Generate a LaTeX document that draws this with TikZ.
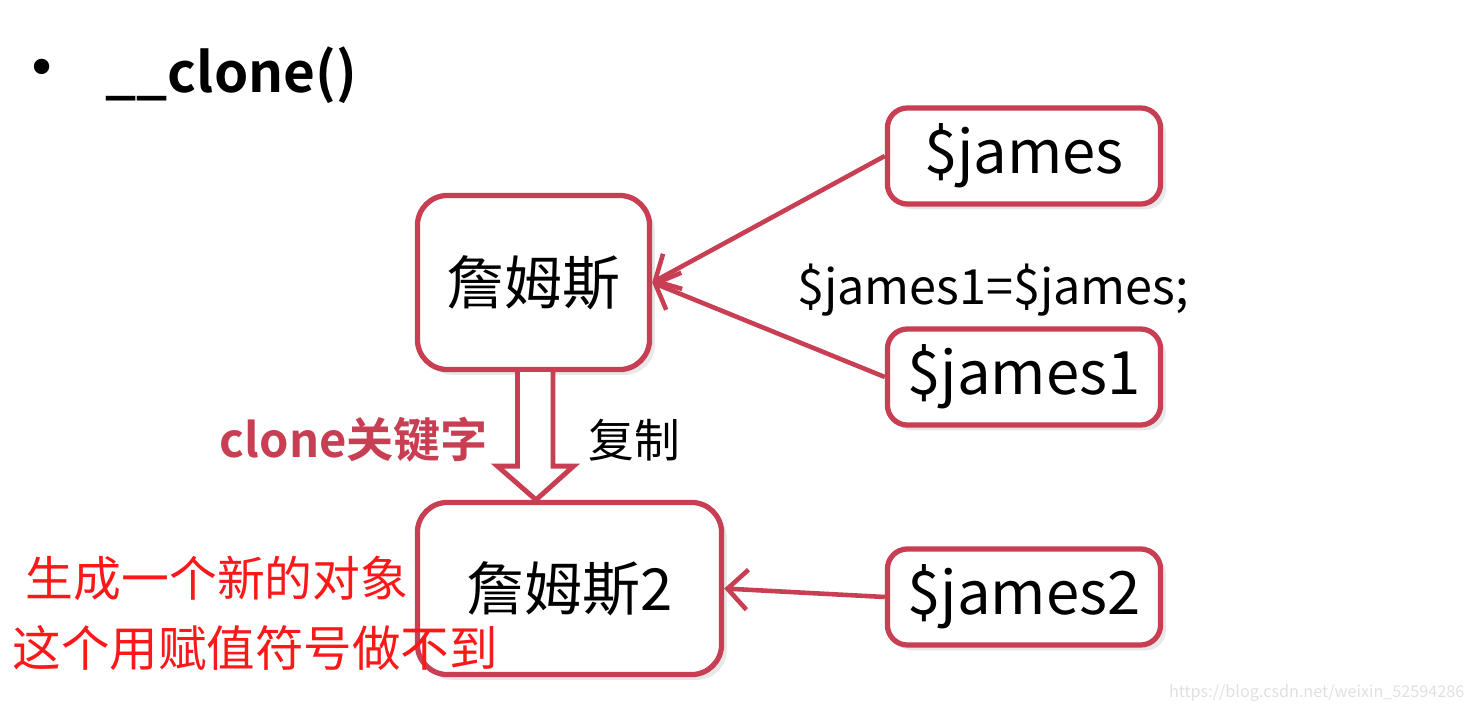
\documentclass[tikz,border=0pt]{standalone}
\usepackage{fontspec}
\setmainfont{Noto Sans CJK SC}[BoldFont={Noto Sans CJK SC Bold}]
\newfontfamily\symfont{DejaVu Sans}
\usetikzlibrary{arrows.meta,calc,shadows}

\definecolor{boxred}{RGB}{200,62,82}
\definecolor{notered}{RGB}{250,24,24}

\tikzset{
  objbox/.style={draw=boxred, line width=1.5pt, fill=white, rounded corners=0.3cm,
    align=center, font=\fontsize{16.5pt}{19pt}\selectfont,
    drop shadow={opacity=0.18, shadow xshift=1.5pt, shadow yshift=-1.5pt}},
  varbox/.style={objbox, rounded corners=0.2cm, minimum width=2.73cm, minimum height=0.96cm,
    font=\fontsize{17pt}{19pt}\selectfont},
  ref/.style={draw=boxred, line width=1.3pt, -{Straight Barb[length=2mm, width=4mm, line width=1.3pt]}},
}

\begin{document}
\begin{tikzpicture}[x=0.01cm, y=-0.01cm]
  \useasboundingbox (0,0) rectangle (1475,712);

  % title
  \node (dot) at (42,73) {\fontsize{15pt}{17pt}\symfont •};
  \node[anchor=west, inner sep=0pt] (title) at (105,75) {\fontsize{15.6pt}{18pt}\selectfont\bfseries \_\_clone()};

  % objects
  \node[objbox, minimum width=2.32cm, minimum height=1.74cm] (obj) at (533.5,282.5) {詹姆斯};
  \node[objbox, minimum width=3.04cm, minimum height=1.72cm] (objtwo) at (569.5,588.5) {詹姆斯2};

  % variables
  \node[varbox] (james) at (1024,156) {\$james};
  \node[varbox] (jamesone) at (1024,377) {\$james1};
  \node[varbox] (jamestwo) at (1024,597) {\$james2};
  \node[font=\fontsize{13.8pt}{16pt}\selectfont] (assign) at (993,290) {\$james1=\$james;};

  % references
  \draw[ref] (james.west) -- (obj.east);
  \draw[ref] (jamesone.west) -- (obj.east);
  \draw[ref] (jamestwo.west) -- (objtwo.east);

  % clone arrow
  \coordinate (tip) at ($(obj.south)+(2.5,0)$);
  \coordinate (tip) at (tip |- objtwo.north);
  \draw[draw=boxred, line width=1.4pt, fill=white, line join=miter]
    ($(obj.south)+(-16,0)$) -- ($(obj.south)+(-16,94)$) -- ($(obj.south)+(-36,94)$) -- (tip)
    -- ($(obj.south)+(40,94)$) -- ($(obj.south)+(19.5,94)$) -- ($(obj.south)+(19.5,0)$);
  \node[text=boxred, font=\fontsize{13.4pt}{16pt}\selectfont\bfseries] (kw) at (354,440) {clone关键字};
  \node[font=\fontsize{13pt}{15pt}\selectfont] (copy) at (634,440) {复制};

  % notes
  \node[anchor=west, text=notered, inner sep=0pt, font=\fontsize{13.6pt}{16pt}\selectfont] (noteone) at (25,578) {生成一个新的对象};
  \node[anchor=west, text=notered, inner sep=0pt, font=\fontsize{13.8pt}{16pt}\selectfont] (notetwo) at (12,648) {这个用赋值符号做不到};

  % watermark
  \node[anchor=east, text=black!12, inner sep=0pt, font=\fontsize{4.6pt}{6pt}\selectfont] (mark) at (1465,693) {https://blog.csdn.net/weixin\_52594286};
\end{tikzpicture}
\end{document}
